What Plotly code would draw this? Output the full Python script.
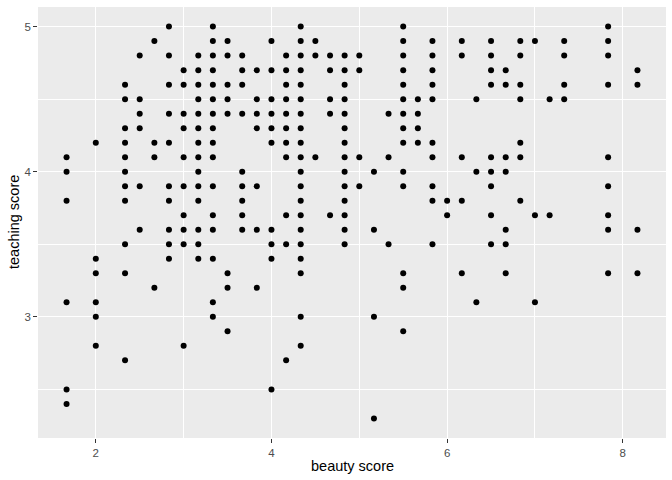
import plotly.graph_objects as go

# beauty score (x) and teaching score (y), one line per beauty level
beauty = (
    [1.667] * 6 +
    [2.0] * 6 +
    [2.333] * 11 +
    [2.5] * 6 +
    [2.667] * 4 +
    [2.833] * 10 +
    [3.0] * 10 +
    [3.167] * 14 +
    [3.333] * 16 +
    [3.5] * 8 +
    [3.667] * 9 +
    [3.833] * 7 +
    [4.0] * 10 +
    [4.167] * 11 +
    [4.333] * 20 +
    [4.5] * 3 +
    [4.667] * 5 +
    [4.833] * 14 +
    [5.0] * 4 +
    [5.167] * 4 +
    [5.333] * 3 +
    [5.5] * 14 +
    [5.667] * 4 +
    [5.833] * 10 +
    [6.0] * 2 +
    [6.167] * 5 +
    [6.333] * 3 +
    [6.5] * 9 +
    [6.667] * 7 +
    [6.833] * 7 +
    [7.0] * 3 +
    [7.167] * 2 +
    [7.333] * 4 +
    [7.833] * 9 +
    [8.167] * 4
)

teaching = [
    4.1, 4.0, 3.8, 3.1, 2.5, 2.4,
    4.2, 3.4, 3.3, 3.1, 3.0, 2.8,
    4.6, 4.5, 4.3, 4.2, 4.1, 4.0, 3.9, 3.8, 3.5, 3.3, 2.7,
    4.8, 4.5, 4.4, 4.3, 3.9, 3.6,
    4.9, 4.2, 4.1, 3.2,
    5.0, 4.8, 4.6, 4.4, 4.2, 3.9, 3.8, 3.6, 3.5, 3.4,
    4.7, 4.6, 4.4, 4.3, 4.1, 3.9, 3.7, 3.6, 3.5, 2.8,
    4.8, 4.7, 4.6, 4.5, 4.4, 4.3, 4.2, 4.1, 4.0, 3.9, 3.8, 3.6, 3.5, 3.4,
    5.0, 4.9, 4.8, 4.7, 4.6, 4.5, 4.4, 4.3, 4.2, 4.1, 3.9, 3.7, 3.6, 3.4, 3.1, 3.0,
    4.9, 4.8, 4.6, 4.5, 4.4, 3.3, 3.2, 2.9,
    4.8, 4.7, 4.6, 4.4, 4.0, 3.9, 3.8, 3.7, 3.6,
    4.7, 4.5, 4.4, 4.3, 3.9, 3.6, 3.2,
    4.9, 4.7, 4.5, 4.4, 4.3, 4.2, 3.6, 3.5, 3.4, 2.5,
    4.8, 4.7, 4.6, 4.5, 4.4, 4.3, 4.2, 4.1, 3.7, 3.5, 2.7,
    5.0, 4.9, 4.8, 4.7, 4.6, 4.5, 4.4, 4.3, 4.2, 4.1, 4.0, 3.9, 3.8, 3.7, 3.6, 3.5, 3.4, 3.3, 3.0, 2.8,
    4.9, 4.8, 4.1,
    4.8, 4.7, 4.5, 4.4, 3.7,
    4.8, 4.7, 4.6, 4.5, 4.4, 4.3, 4.2, 4.1, 4.0, 3.9, 3.8, 3.7, 3.6, 3.5,
    4.8, 4.7, 4.1, 3.9,
    4.0, 3.6, 3.0, 2.3,
    4.4, 4.1, 3.5,
    5.0, 4.9, 4.8, 4.7, 4.6, 4.5, 4.4, 4.3, 4.2, 4.0, 3.9, 3.3, 3.2, 2.9,
    4.5, 4.4, 4.3, 4.2,
    4.9, 4.8, 4.7, 4.6, 4.5, 4.2, 4.1, 3.9, 3.8, 3.5,
    3.8, 3.7,
    4.9, 4.8, 4.1, 3.8, 3.3,
    4.5, 4.0, 3.1,
    4.9, 4.8, 4.7, 4.6, 4.1, 4.0, 3.9, 3.7, 3.5,
    4.7, 4.6, 4.1, 4.0, 3.6, 3.5, 3.3,
    4.9, 4.8, 4.6, 4.5, 4.2, 4.1, 3.8,
    4.9, 3.7, 3.1,
    4.5, 3.7,
    4.9, 4.8, 4.6, 4.5,
    5.0, 4.9, 4.8, 4.6, 4.1, 3.9, 3.7, 3.6, 3.3,
    4.7, 4.6, 3.6, 3.3,
]

x_ticks = [2, 4, 6, 8]
y_ticks = [3, 4, 5]

fig = go.Figure(go.Scatter(
    x=beauty, y=teaching, mode="markers",
    marker=dict(color="black", size=6, line=dict(width=0)),
    hoverinfo="skip",
))

xr = [min(beauty) - 0.05 * (max(beauty) - min(beauty)), max(beauty) + 0.05 * (max(beauty) - min(beauty))]
yr = [min(teaching) - 0.05 * (max(teaching) - min(teaching)), max(teaching) + 0.05 * (max(teaching) - min(teaching))]

FONT = "Liberation Sans, Arial, sans-serif"

axis_common = dict(
    showgrid=True, gridcolor="white", gridwidth=1.1,
    zeroline=False, showline=False, automargin=False,
    ticks="outside", ticklen=3.7, tickwidth=1.1, tickcolor="#333333",
    tickfont=dict(family=FONT, size=11.5, color="#4D4D4D"),
)

fig.update_layout(
    width=672, height=480,
    margin=dict(l=38, r=6, t=7, b=42),
    paper_bgcolor="white", plot_bgcolor="#EBEBEB",
    showlegend=False,
    xaxis=dict(range=xr, tickvals=x_ticks,
               minor=dict(showgrid=True, gridcolor="white", gridwidth=0.55, dtick=1, tick0=1, ticks=""),
               **axis_common),
    yaxis=dict(range=yr, tickvals=y_ticks,
               minor=dict(showgrid=True, gridcolor="white", gridwidth=0.55, dtick=0.5, tick0=2.5, ticks=""),
               **axis_common),
    annotations=[
        dict(text="beauty score", xref="paper", yref="paper", x=0.5, y=0,
             yshift=-28, xanchor="center", yanchor="middle", showarrow=False,
             font=dict(family=FONT, size=14.5, color="black")),
        dict(text="teaching score", xref="paper", yref="paper", x=0, y=0.5,
             xshift=-24.5, xanchor="center", yanchor="middle", textangle=-90, showarrow=False,
             font=dict(family=FONT, size=14.5, color="black")),
    ],
)

fig.write_html(
    "out.html",
    config={"displayModeBar": False},
    post_script="document.body.style.margin='0';document.body.style.overflow='hidden';",
)
